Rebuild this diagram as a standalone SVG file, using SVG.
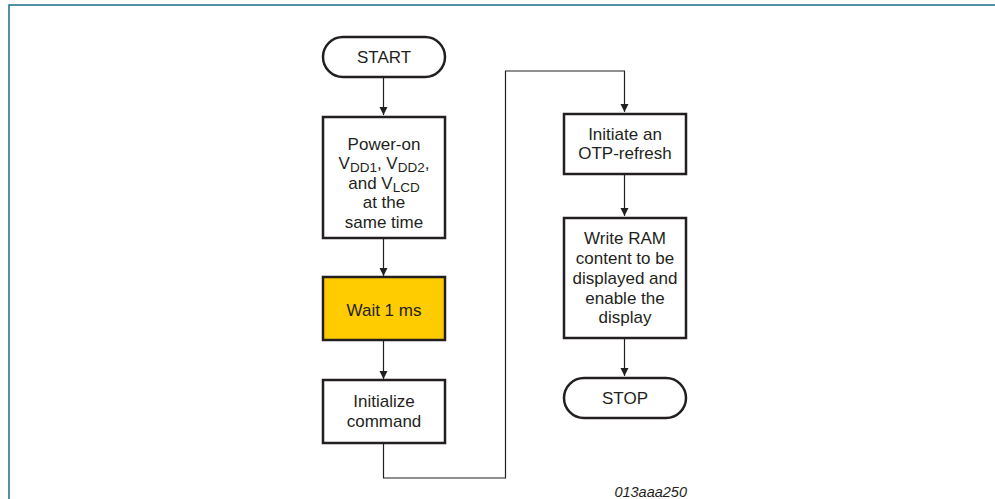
<svg xmlns="http://www.w3.org/2000/svg" width="995" height="499" viewBox="0 0 995 499">
<defs>
<style>
.box{fill:#fff;stroke:#231f20;stroke-width:2.5}
.wait{fill:#ffcc00;stroke:#231f20;stroke-width:2.5}
.t{font-family:"Liberation Sans",Arial,sans-serif;font-size:17px;fill:#231f20;text-anchor:middle}
.sub{font-size:13.5px}
.conn{fill:none;stroke:#231f20;stroke-width:1.2}
.frame{fill:none;stroke:#1a6e86;stroke-width:1.5}
</style>
<marker id="arr" viewBox="0 0 8 10" refX="8" refY="5" markerWidth="8" markerHeight="10" markerUnits="userSpaceOnUse" orient="auto">
<path d="M0,1 L8,5 L0,9 Z" fill="#231f20"/>
</marker>
</defs>
<rect width="995" height="499" fill="#fff"/>
<path class="frame" d="M9,499 V5 H995"/>
<g id="connectors">
<path class="conn" d="M383.5,77 V115" marker-end="url(#arr)"/>
<path class="conn" d="M383.5,238 V276" marker-end="url(#arr)"/>
<path class="conn" d="M383.5,340 V379" marker-end="url(#arr)"/>
<path class="conn" d="M383.5,443 V478 H505.5 V71 H624.5 V112" marker-end="url(#arr)"/>
<path class="conn" d="M624.5,174 V216" marker-end="url(#arr)"/>
<path class="conn" d="M624.5,338 V376" marker-end="url(#arr)"/>
</g>
<g id="start">
<rect class="box" x="323" y="37" width="122" height="40" rx="20" ry="20"/>
<text class="t" x="384" y="63">START</text>
</g>
<g id="poweron">
<rect class="box" x="323" y="117" width="122" height="121"/>
<text class="t" x="384" y="150">Power-on</text>
<text class="t" x="384" y="168.5">V<tspan class="sub" dy="3">DD1</tspan><tspan dy="-3">, V</tspan><tspan class="sub" dy="3">DD2</tspan><tspan dy="-3">,</tspan></text>
<text class="t" x="384" y="188.5">and V<tspan class="sub" dy="3">LCD</tspan></text>
<text class="t" x="384" y="208">at the</text>
<text class="t" x="384" y="227.5">same time</text>
</g>
<g id="wait">
<rect class="wait" x="323" y="277" width="122" height="63"/>
<text class="t" x="384" y="316">Wait 1 ms</text>
</g>
<g id="init">
<rect class="box" x="323" y="380" width="122" height="63"/>
<text class="t" x="384" y="407">Initialize</text>
<text class="t" x="384" y="427">command</text>
</g>
<g id="otp">
<rect class="box" x="564" y="114" width="122" height="60"/>
<text class="t" x="625" y="140">Initiate an</text>
<text class="t" x="625" y="159">OTP-refresh</text>
</g>
<g id="write">
<rect class="box" x="564" y="218" width="122" height="120"/>
<text class="t" x="625" y="244">Write RAM</text>
<text class="t" x="625" y="264">content to be</text>
<text class="t" x="625" y="284">displayed and</text>
<text class="t" x="625" y="304">enable the</text>
<text class="t" x="625" y="323">display</text>
</g>
<g id="stop">
<rect class="box" x="564" y="378" width="122" height="40" rx="20" ry="20"/>
<text class="t" x="625" y="404">STOP</text>
</g>
<text x="687" y="497" style="font-family:'Liberation Sans',Arial,sans-serif;font-size:14.5px;font-style:italic;fill:#231f20;text-anchor:end">013aaa250</text>
</svg>
